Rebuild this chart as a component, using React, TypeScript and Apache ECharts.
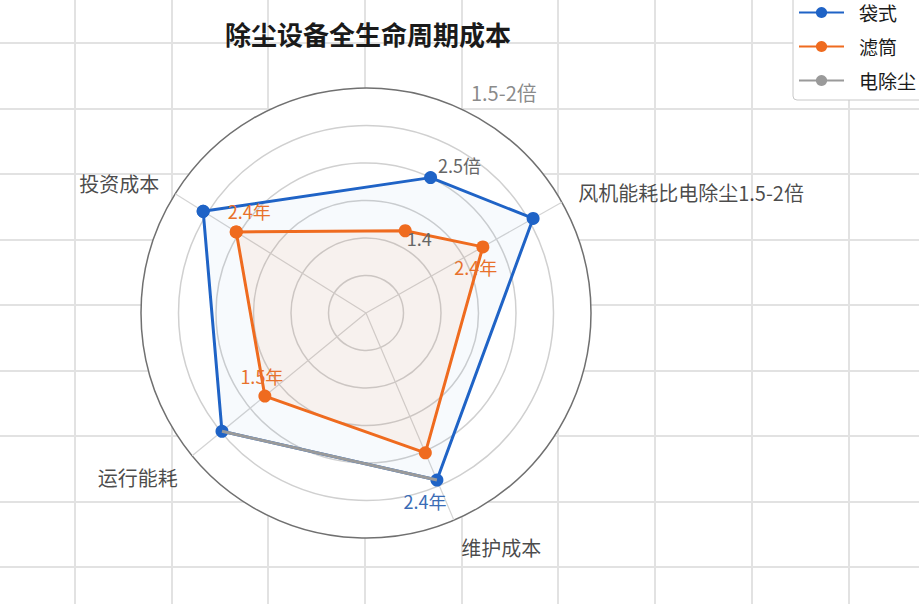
import React, { useEffect, useRef } from 'react';
import * as echarts from 'echarts';

// 指标（按折线连接顺序）及其在图上的角度（度，逆时针，0 = 正右方）
const indicatorNames = ['投资成本', '1.5-2倍', '风机能耗比电除尘1.5-2倍', '维护成本', '运行能耗'];
const indicatorAngles = [148, 64.5, 29.5, 293, 219.4];
const spokeVisible = [true, false, true, true, true];

// 各系列数值（刻度 0-6）
const baghouseValues = [5.12, 4.0, 5.12, 4.84, 4.97];
const cartridgeValues = [4.08, 2.43, 3.58, 4.05, 3.49];
const electroValues = [null, null, null, 4.84, 4.97];

// 数据标签文字
const baghouseLabels = ['', '2.5倍', '', '2.4年', ''];
const cartridgeLabels = ['2.4年', '1.4', '2.4年', '', '1.5年'];

const seriesNames = ['袋式', '滤筒', '电除尘'];
const radiusMax = 6;

const BLUE = '#1f63c6';
const ORANGE = '#ef6b1f';
const GRAY = '#9a9a9a';
const FONT = "'Noto Sans CJK SC', 'Noto Sans', sans-serif";

const baghouseLabelStyle: any[] = [
  null,
  { position: 'right', offset: [-4, -13], color: '#666' },
  null,
  { position: 'bottom', offset: [-12, 0], color: '#3a6cb6' },
  null,
];
const cartridgeLabelStyle: any[] = [
  { position: 'top', offset: [13, 0], color: '#e8712b' },
  { position: 'right', offset: [-10, 7], color: '#666' },
  { position: 'bottom', offset: [-7, 0], color: '#e8712b' },
  null,
  { position: 'top', offset: [-3, 0], color: '#e8712b' },
];

const ringData = (values: number[], labels: string[], styles: any[]) => {
  const pts: any[] = values.map((v, i) => ({
    value: [v, indicatorAngles[i]],
    label: labels[i]
      ? { show: true, formatter: labels[i], fontSize: 18, ...styles[i] }
      : { show: false },
  }));
  pts.push({ value: [values[0], indicatorAngles[0]], label: { show: false } });
  return pts;
};

const hiddenAxis = {
  type: 'value',
  min: 0,
  max: 10,
  interval: 1,
  z: 0,
  axisLine: { show: false },
  axisTick: { show: false },
  axisLabel: { show: false },
  splitLine: { show: true, lineStyle: { color: '#e2e2e2', width: 2 } },
};

// 同心圆颜色：内圈浅灰，最外圈深灰
const ringColors = ['#d0d0d0', '#d0d0d0', '#d0d0d0', '#d0d0d0', '#d0d0d0', '#d0d0d0', '#707070'];

const App: React.FC = () => {
  const chartRef = useRef<HTMLDivElement>(null);

  useEffect(() => {
    if (!chartRef.current) return;
    const chart = echarts.init(chartRef.current, null, { renderer: 'svg' });

    const spokes = indicatorAngles
      .filter((_, i) => spokeVisible[i])
      .map((a) => ({
        type: 'line',
        coordinateSystem: 'polar',
        data: [
          [0, a],
          [radiusMax, a],
        ],
        symbol: 'none',
        silent: true,
        z: 2,
        lineStyle: { color: '#d4d4d4', width: 1.2 },
      }));

    const nameData = indicatorNames.map((n, i) => {
      const rad = (indicatorAngles[i] * Math.PI) / 180;
      const c = Math.cos(rad);
      const s = Math.sin(rad);
      return {
        name: n,
        value: [6.5, indicatorAngles[i]],
        label: {
          align: c > 0.1 ? 'left' : c < -0.1 ? 'right' : 'center',
          verticalAlign: s < -0.3 ? 'top' : 'middle',
          color: i === 1 ? '#6b6b6b' : '#1a1a1a',
        },
      };
    });

    const option: any = {
      animation: false,
      backgroundColor: '#fff',
      textStyle: { fontFamily: FONT },
      title: {
        text: '除尘设备全生命周期成本',
        left: 363,
        textAlign: 'center',
        top: 15,
        textStyle: { fontSize: 26, fontWeight: 'bold', color: '#1a1a1a', fontFamily: FONT },
      },
      legend: {
        data: seriesNames,
        orient: 'vertical',
        left: 793,
        top: -9,
        padding: [12, 12, 10, 5],
        itemWidth: 45,
        itemHeight: 14,
        itemGap: 15,
        backgroundColor: '#fff',
        borderColor: '#c8c8c8',
        borderWidth: 1,
        borderRadius: 4,
        textStyle: { fontSize: 19, color: '#1a1a1a', padding: [0, 0, 0, 10] },
      },
      // 背景网格
      grid: {
        left: -22,
        top: -22.5,
        width: 967,
        height: 655,
        show: false,
        outerBoundsMode: 'none',
        containLabel: false,
      },
      xAxis: hiddenAxis,
      yAxis: hiddenAxis,
      polar: { center: [366, 313], radius: 225 },
      angleAxis: {
        type: 'value',
        min: 0,
        max: 360,
        interval: 90,
        startAngle: 0,
        clockwise: false,
        z: 1,
        axisLine: { show: false },
        axisTick: { show: false },
        axisLabel: { show: false },
        splitLine: { show: false },
        splitArea: { show: true, areaStyle: { color: ['#fff'] } },
      },
      radiusAxis: {
        type: 'value',
        min: 0,
        max: radiusMax,
        interval: 1,
        z: 2,
        axisLine: { show: false },
        axisTick: { show: false },
        axisLabel: { show: false },
        splitLine: { show: true, lineStyle: { color: ringColors, width: 1.5 } },
        splitArea: { show: false },
      },
      series: [
        ...spokes,
        {
          name: seriesNames[0],
          type: 'line',
          coordinateSystem: 'polar',
          data: ringData(baghouseValues, baghouseLabels, baghouseLabelStyle),
          symbol: 'circle',
          symbolSize: 13,
          z: 3,
          itemStyle: { color: BLUE },
          lineStyle: { color: BLUE, width: 3 },
          areaStyle: { color: 'rgba(40, 100, 200, 0.05)' },
        },
        {
          name: seriesNames[1],
          type: 'line',
          coordinateSystem: 'polar',
          data: ringData(cartridgeValues, cartridgeLabels, cartridgeLabelStyle),
          symbol: 'circle',
          symbolSize: 13,
          z: 4,
          itemStyle: { color: ORANGE },
          lineStyle: { color: ORANGE, width: 3 },
          areaStyle: { color: 'rgba(250, 130, 45, 0.1)' },
        },
        {
          name: seriesNames[2],
          type: 'line',
          coordinateSystem: 'polar',
          data: electroValues
            .map((v, i) => (v == null ? null : [v, indicatorAngles[i]]))
            .filter((p) => p !== null),
          symbol: 'circle',
          symbolSize: 13,
          showSymbol: false,
          z: 5,
          itemStyle: { color: GRAY },
          lineStyle: { color: GRAY, width: 3 },
        },
        {
          type: 'scatter',
          coordinateSystem: 'polar',
          data: nameData,
          symbolSize: 1,
          clip: false,
          silent: true,
          z: 6,
          itemStyle: { color: 'rgba(0,0,0,0)' },
          label: { show: true, position: 'inside', formatter: '{b}', fontSize: 20 },
        },
      ],
    };

    chart.setOption(option);

    return () => {
      chart.dispose();
    };
  }, []);

  return (
    <div
      ref={chartRef}
      style={{ position: 'fixed', left: 0, top: 0, width: 919, height: 604 }}
    />
  );
};

export default App;
